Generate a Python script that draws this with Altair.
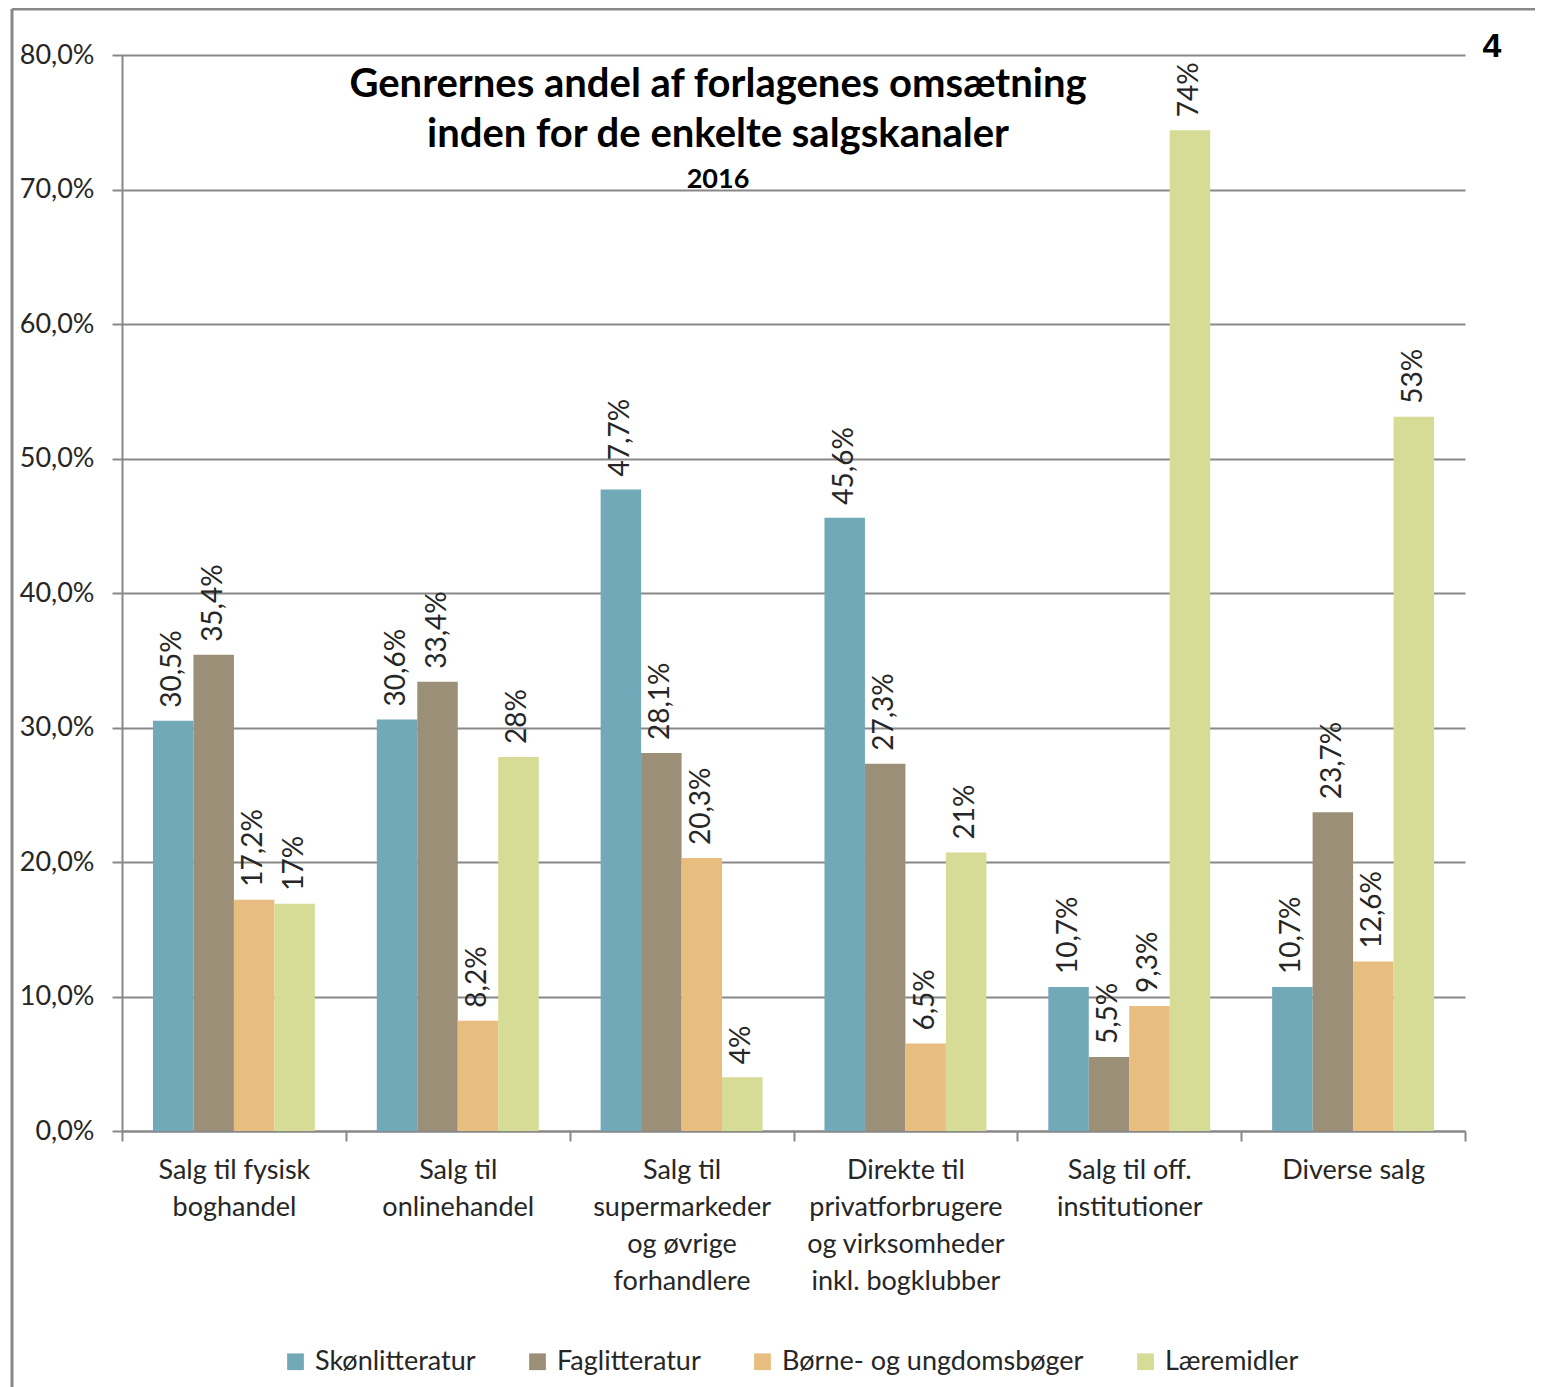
import altair as alt
import pandas as pd

channels = [
    "Salg til fysisk|boghandel",
    "Salg til|onlinehandel",
    "Salg til|supermarkeder|og øvrige|forhandlere",
    "Direkte til|privatforbrugere|og virksomheder|inkl. bogklubber",
    "Salg til off.|institutioner",
    "Diverse salg",
]
series = ["Skønlitteratur", "Faglitteratur", "Børne- og ungdomsbøger", "Læremidler"]
skon = [30.5, 30.6, 47.7, 45.6, 10.7, 10.7]
fag = [35.4, 33.4, 28.1, 27.3, 5.5, 23.7]
borne = [17.2, 8.2, 20.3, 6.5, 9.3, 12.6]
laere = [16.9, 27.8, 4.0, 20.7, 74.4, 53.1]
colors = ["#72a9b8", "#9c8f78", "#e8bd80", "#d6dc95"]

rows = []
for s, vals in zip(series, [skon, fag, borne, laere]):
    for c, v in zip(channels, vals):
        rows.append({"kanal": c, "genre": s, "andel": v})
df = pd.DataFrame(rows)

W, H = 1343, 1076
FONT = "Lato"
TXT = "#262626"
GRID = "#888888"

x = alt.X(
    "kanal:N",
    sort=channels,
    scale=alt.Scale(paddingInner=0, paddingOuter=0),
    axis=alt.Axis(
        title=None,
        labelExpr="split(datum.label, '|')",
        labelAngle=0,
        tickBand="extent",
        labelFontSize=27,
        labelLineHeight=37,
        labelPadding=16,
        labelFont=FONT,
        labelColor=TXT,
        labelBaseline="top",
        grid=False,
        labelLimit=400,
    ),
)
xo = alt.XOffset(
    "genre:N",
    sort=series,
    scale=alt.Scale(paddingOuter=0.765, paddingInner=0),
)
y = alt.Y(
    "andel:Q",
    scale=alt.Scale(domain=[0, 80], nice=False),
    axis=alt.Axis(
        title=None,
        values=list(range(0, 81, 10)),
        labelExpr="replace(format(datum.value, '.1f'), '.', ',') + '%'",
        labelFontSize=27,
        labelFont=FONT,
        labelColor=TXT,
        labelPadding=18,
        grid=True,
    ),
)

base = alt.Chart(df)
bars = base.mark_bar().encode(
    x=x,
    xOffset=xo,
    y=y,
    color=alt.Color(
        "genre:N",
        sort=series,
        scale=alt.Scale(domain=series, range=colors),
        legend=alt.Legend(
            title=None,
            orient="none",
            legendX=160,
            legendY=1293,
            direction="horizontal",
            symbolType="square",
            symbolSize=280,
            symbolStrokeWidth=0,
            labelFontSize=27,
            labelFont=FONT,
            labelColor=TXT,
            labelOffset=6,
            labelLimit=500,
            columnPadding=48,
        ),
    ),
)
labels = base.transform_calculate(
    lab="datum.genre == 'Læremidler' ? format(datum.andel, '.0f') + '%' : replace(format(datum.andel, '.1f'), '.', ',') + '%'"
).mark_text(
    angle=270, align="left", baseline="middle", dx=13, fontSize=28, font=FONT, color=TXT
).encode(x=x, xOffset=xo, y=y, text="lab:N")

one = alt.Data(values=[{"a": 1}])
t1 = alt.Chart(one).mark_text(
    text="Genrernes andel af forlagenes omsætning", fontSize=40, fontWeight="bold",
    font=FONT, color="#000", align="center", baseline="middle"
).encode(x=alt.value(596), y=alt.value(30))
t2 = alt.Chart(one).mark_text(
    text="inden for de enkelte salgskanaler", fontSize=40, fontWeight="bold",
    font=FONT, color="#000", align="center", baseline="middle"
).encode(x=alt.value(596), y=alt.value(80))
t3 = alt.Chart(one).mark_text(
    text="2016", fontSize=27, fontWeight="bold",
    font=FONT, color="#000", align="center", baseline="middle"
).encode(x=alt.value(596), y=alt.value(125))
t4 = alt.Chart(one).mark_text(
    text="4", fontSize=34, fontWeight="bold",
    font="Liberation Sans", color="#000", align="center", baseline="middle"
).encode(x=alt.value(1370), y=alt.value(-8))

border_top = alt.Chart(one).mark_rule(color=GRID, strokeWidth=3).encode(
    x=alt.value(-110), x2=alt.value(W + 80), y=alt.value(-46)
)
border_left = alt.Chart(one).mark_rule(color=GRID, strokeWidth=3).encode(
    x=alt.value(-110), y=alt.value(-46), y2=alt.value(H + 260)
)

chart = alt.layer(border_top, border_left, bars, labels, t1, t2, t3, t4).properties(
    width=W,
    height=H,
    autosize=alt.AutoSizeParams(type="none"),
    padding={"left": 114, "top": 47, "right": 70, "bottom": 256},
).configure_view(stroke=None).configure_axis(
    domainColor=GRID, domainWidth=2, gridColor=GRID, gridWidth=2,
    tickColor=GRID, tickWidth=2, tickSize=10,
)

chart.save("out.html", embed_options={"renderer": "svg", "actions": False})
